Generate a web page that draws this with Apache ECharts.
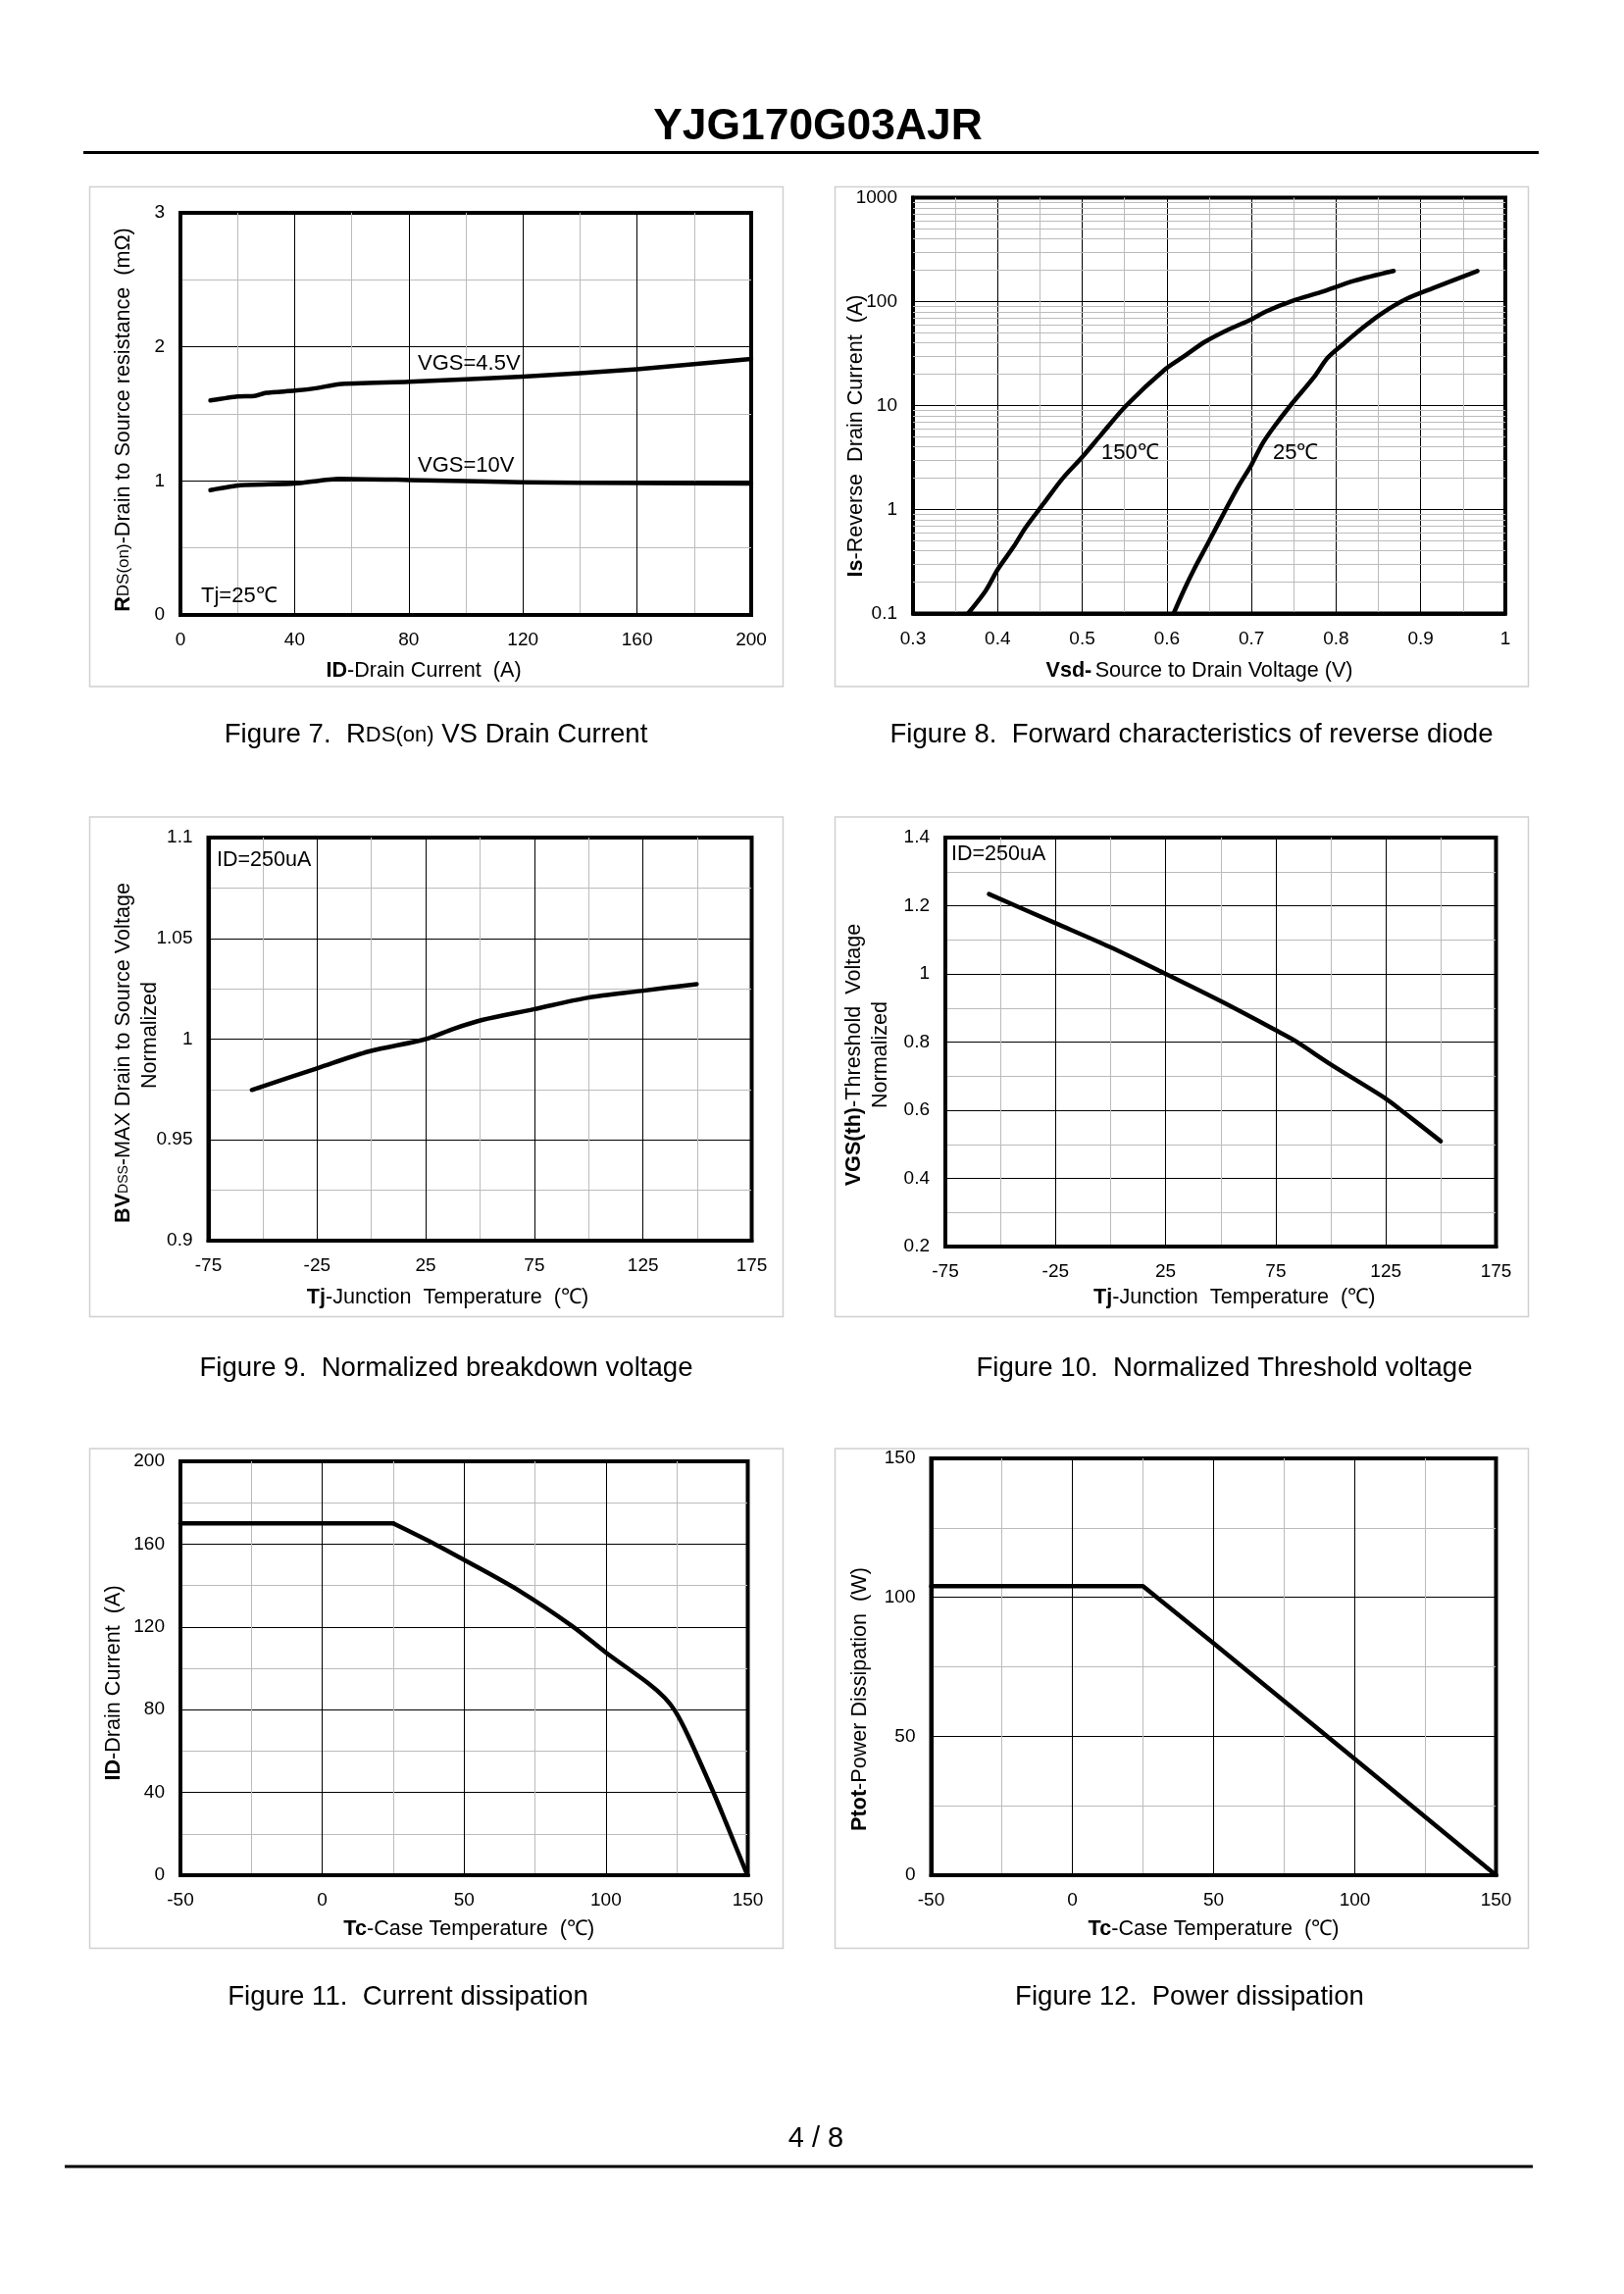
<!DOCTYPE html>
<html>
<head>
<meta charset="utf-8">
<title>YJG170G03AJR</title>
<script src="https://cdn.jsdelivr.net/npm/echarts@6/dist/echarts.min.js"></script>
<style>
html, body { margin: 0; padding: 0; background: #fff; }
#page { width: 1656px; height: 2339px; }
</style>
</head>
<body>
<div id="page"></div>
<script>
// values
var fig7Current45 = [10.5, 20, 26, 30, 40, 48, 55.5, 80, 120, 160, 200]
var fig7Rds45 = [1.6, 1.63, 1.634, 1.657, 1.673, 1.693, 1.722, 1.739, 1.778, 1.833, 1.91]
var fig7Current10 = [10.5, 21, 40, 55.5, 80, 120, 160, 200]
var fig7Rds10 = [0.931, 0.967, 0.98, 1.016, 1.007, 0.99, 0.984, 0.98]

var fig8Vsd150 = [0.365, 0.386, 0.4, 0.419, 0.433, 0.455, 0.477, 0.5, 0.522, 0.552, 0.597, 0.621, 0.645, 0.671, 0.699, 0.718, 0.749, 0.782, 0.821, 0.868]
var fig8Is150 = [0.1, 0.166, 0.264, 0.44, 0.67, 1.16, 2, 3.2, 5.2, 10, 22, 30, 41, 53, 67, 81, 102, 123, 158, 197]
var fig8Vsd25 = [0.608, 0.621, 0.633, 0.649, 0.669, 0.685, 0.7, 0.713, 0.727, 0.746, 0.774, 0.79, 0.81, 0.832, 0.854, 0.882, 0.915, 0.967]
var fig8Is25 = [0.1, 0.173, 0.275, 0.48, 0.98, 1.7, 2.7, 4.3, 6.3, 10, 18.8, 28.8, 40, 56.5, 77, 105, 135, 197]
var fig8MinorIs = [0.2, 0.3, 0.4, 0.5, 0.6, 0.7, 0.8, 0.9, 2, 3, 4, 5, 6, 7, 8, 9, 20, 30, 40, 50, 60, 70, 80, 90, 200, 300, 400, 500, 600, 700, 800, 900]

var fig9Temp = [-55, -24.7, -1, 25, 37.7, 50.9, 74.6, 99.4, 124.3, 149.7]
var fig9Bv = [0.9748, 0.9856, 0.9939, 1, 1.0051, 1.0095, 1.0148, 1.0205, 1.0239, 1.0273]

var fig10Temp = [-55.2, -25.4, -0.3, 25, 50.9, 74.9, 83.9, 99.8, 124.7, 133.9, 149.9]
var fig10Vth = [1.234, 1.15, 1.079, 1, 0.917, 0.835, 0.803, 0.735, 0.635, 0.59, 0.509]

var fig11FlatTemp = [-50, 25]
var fig11FlatId = [170, 170]
var fig11Temp = [25, 39.7, 49.7, 69.5, 88.5, 100, 114.9, 120.7, 124.4, 129, 138, 142.3, 149.3, 150]
var fig11Id = [170, 160, 152.6, 137.4, 120, 107.6, 92.8, 85.8, 79.3, 67.3, 39.7, 25.5, 2, 0]

var fig12Temp = [-50, 25, 50, 100, 150]
var fig12Ptot = [104, 104, 83.5, 41.8, 0]

var FONT = '"Liberation Sans", Arial, sans-serif'
var LABEL_SIZE = 19
var NAME_SIZE = 21.6
var CAPTION_SIZE = 27.6

var chart = echarts.init(document.getElementById('page'), null, { renderer: 'canvas' })

function zip (xs, ys) {
    return xs.map(function (x, i) { return [x, ys[i]] })
}

var nameRich = {
    n: { fontFamily: FONT, fontSize: NAME_SIZE, color: '#000', lineHeight: 27 },
    b: { fontFamily: FONT, fontSize: NAME_SIZE, fontWeight: 'bold', color: '#000', lineHeight: 27 },
    s: { fontFamily: FONT, fontSize: 17, color: '#000', lineHeight: 27 },
    sb: { fontFamily: FONT, fontSize: 14, color: '#000', lineHeight: 27 }
}

// off shifts the name along the axis, the padding pushes the centred text away
function axisName (gap, off) {
    return {
        nameLocation: 'middle',
        nameGap: gap,
        nameTextStyle: {
            rich: nameRich,
            padding: [0, off < 0 ? -2 * off : 0, 0, off > 0 ? 2 * off : 0]
        }
    }
}

function baseAxis (cfg, idx, isY) {
    var named = axisName(cfg.gap, cfg.off)
    var a = {
        type: cfg.type || 'value',
        gridIndex: idx,
        min: cfg.min,
        max: cfg.max,
        name: cfg.name,
        nameLocation: named.nameLocation,
        nameGap: named.nameGap,
        nameMoveOverlap: false,
        nameTextStyle: named.nameTextStyle,
        axisLine: { show: true, onZero: false, lineStyle: { color: '#000', width: 4 } },
        axisTick: { show: false },
        axisLabel: {
            color: '#000',
            fontFamily: FONT,
            fontSize: LABEL_SIZE,
            margin: cfg.margin,
            padding: isY ? [3, 0, 0, 0] : 0,
            showMinLabel: true,
            showMaxLabel: true,
            hideOverlap: false,
            formatter: cfg.formatter || function (v) { return String(v) }
        },
        splitLine: { show: true, lineStyle: { color: cfg.colors || '#000', width: 1 } }
    }
    if (cfg.interval) a.interval = cfg.interval
    if (cfg.minor) {
        a.minorTick = { show: false, splitNumber: cfg.minor }
        a.minorSplitLine = { show: true, lineStyle: { color: '#bbb', width: 1 } }
    }
    return a
}

function curve (i, data, smooth) {
    return {
        type: 'line',
        xAxisIndex: i,
        yAxisIndex: i,
        data: data,
        showSymbol: false,
        symbol: 'none',
        smooth: smooth,
        z: 5,
        lineStyle: { color: '#000', width: 4.5, cap: 'round', join: 'round' }
    }
}

// only every other tick carries a label on the -75..175 scale
function everyOther (v) {
    return (v + 75) % 50 === 0 ? String(v) : ''
}

var plots = [
    {
        rect: [184, 217, 582, 410],
        x: { min: 0, max: 200, interval: 40, minor: 2, margin: 16.5, gap: 44, off: -43, name: '{b|ID}{n|-Drain Current  (A)}' },
        y: { min: 0, max: 3, interval: 1, minor: 2, margin: 16, gap: 44, off: -6, name: '{b|R}{s|DS(on)}{n|-Drain to Source resistance  (mΩ)}' },
        curves: [zip(fig7Current45, fig7Rds45), zip(fig7Current10, fig7Rds10)],
        smooth: 0.2
    },
    {
        rect: [931, 201.5, 604, 424],
        x: { min: 0.3, max: 1, interval: 0.1, minor: 2, margin: 16.5, gap: 45.5, off: -10, name: '{b|Vsd-} {n|Source to Drain Voltage (V)}' },
        y: { type: 'log', min: 0.1, max: 1000, margin: 16, gap: 44, off: -31, name: '{b|Is}{n|-Reverse  Drain Current  (A)}' },
        curves: [zip(fig8Vsd150, fig8Is150), zip(fig8Vsd25, fig8Is25)],
        smooth: 0.3,
        minorY: fig8MinorIs
    },
    {
        rect: [212.5, 854, 554, 411],
        x: { min: -75, max: 175, interval: 25, colors: ['#000', '#bbb'], formatter: everyOther, margin: 16.5, gap: 45, off: -33, name: '{b|Tj}{n|-Junction  Temperature  (℃)}' },
        y: { min: 0.9, max: 1.1, interval: 0.05, minor: 2, margin: 16, gap: 45.5, off: -14, name: '{b|BV}{sb|DSS}{n|-MAX Drain to Source Voltage}\n{n|      Normalized}' },
        curves: [zip(fig9Temp, fig9Bv)],
        smooth: 0.3
    },
    {
        rect: [964, 854, 561.5, 417],
        x: { min: -75, max: 175, interval: 25, colors: ['#000', '#bbb'], formatter: everyOther, margin: 16.5, gap: 39, off: 14, name: '{b|Tj}{n|-Junction  Temperature  (℃)}' },
        y: { min: 0.2, max: 1.4, interval: 0.2, minor: 2, margin: 16, gap: 52, off: -13, name: '{b|VGS(th)}{n|-Threshold  Voltage}\n{n|Normalized}' },
        curves: [zip(fig10Temp, fig10Vth)],
        smooth: 0.3
    },
    {
        rect: [184, 1490, 578.5, 422],
        x: { min: -50, max: 150, interval: 50, minor: 2, margin: 16.5, gap: 42, off: 5, name: '{b|Tc}{n|-Case Temperature  (℃)}' },
        y: { min: 0, max: 200, interval: 40, minor: 2, margin: 16, gap: 54, off: -15, name: '{b|ID}{n|-Drain Current  (A)}' },
        curves: [zip(fig11FlatTemp, fig11FlatId), zip(fig11Temp, fig11Id)],
        smooth: 0.3
    },
    {
        rect: [949.5, 1487, 576, 425],
        x: { min: -50, max: 150, interval: 50, minor: 2, margin: 16.5, gap: 42, off: 0, name: '{b|Tc}{n|-Case Temperature  (℃)}' },
        y: { min: 0, max: 150, interval: 50, minor: 2, margin: 16, gap: 59, off: -33, name: '{b|Ptot}{n|-Power Dissipation  (W)}' },
        curves: [zip(fig12Temp, fig12Ptot)],
        smooth: false
    }
]

var grids = []
var xAxes = []
var yAxes = []
var seriesList = []

plots.forEach(function (p, i) {
    grids.push({
        left: p.rect[0],
        top: p.rect[1],
        width: p.rect[2],
        height: p.rect[3],
        show: true,
        backgroundColor: '#fff',
        borderColor: '#000',
        borderWidth: 4
    })
    xAxes.push(baseAxis(p.x, i, false))
    yAxes.push(baseAxis(p.y, i, true))
    p.curves.forEach(function (d) {
        seriesList.push(curve(i, d, p.smooth))
    })
    if (p.minorY) {
        seriesList.push({
            type: 'line',
            xAxisIndex: i,
            yAxisIndex: i,
            data: [],
            z: 1,
            markLine: {
                silent: true,
                symbol: 'none',
                animation: false,
                label: { show: false },
                lineStyle: { color: '#bbb', width: 1, type: 'solid' },
                data: p.minorY.map(function (v) { return { yAxis: v } })
            }
        })
    }
})

function text (x, y, str, size, opts) {
    opts = opts || {}
    return {
        type: 'text',
        z: 20,
        silent: true,
        style: {
            x: x,
            y: y,
            text: str,
            fill: '#000',
            fontFamily: FONT,
            fontSize: size,
            fontWeight: opts.bold ? 'bold' : 'normal',
            textAlign: opts.align || 'center',
            textVerticalAlign: 'middle',
            verticalAlign: 'middle',
            rich: opts.rich
        }
    }
}

function panel (x, y, w, h) {
    return {
        type: 'rect',
        z: -10,
        silent: true,
        shape: { x: x, y: y, width: w, height: h },
        style: { fill: '#fff', stroke: '#d0d0d0', lineWidth: 1.5 }
    }
}

function rule (x1, x2, y, w) {
    return {
        type: 'line',
        silent: true,
        shape: { x1: x1, y1: y, x2: x2, y2: y },
        style: { stroke: '#000', lineWidth: w }
    }
}

var captionRich = {
    n: { fontFamily: FONT, fontSize: CAPTION_SIZE, color: '#000' },
    s: { fontFamily: FONT, fontSize: 22, color: '#000' }
}

var graphics = [
    panel(91.5, 190.5, 707, 509.5),
    panel(851.5, 190.5, 707, 509.5),
    panel(91.5, 833, 707, 509.5),
    panel(851.5, 833, 707, 509.5),
    panel(91.5, 1477, 707, 509.5),
    panel(851.5, 1477, 707, 509.5),
    text(834, 130, 'YJG170G03AJR', 44.4, { bold: true }),
    rule(85, 1569, 155.5, 3),
    text(444.5, 749.5, '{n|Figure 7.  R}{s|DS(on)}{n| VS Drain Current}', CAPTION_SIZE, { rich: captionRich }),
    text(1215, 749.5, 'Figure 8.  Forward characteristics of reverse diode', CAPTION_SIZE),
    text(455, 1395.5, 'Figure 9.  Normalized breakdown voltage', CAPTION_SIZE),
    text(1248.5, 1395.5, 'Figure 10.  Normalized Threshold voltage', CAPTION_SIZE),
    text(416, 2036, 'Figure 11.  Current dissipation', CAPTION_SIZE),
    text(1213, 2036, 'Figure 12.  Power dissipation', CAPTION_SIZE),
    text(832, 2180.5, '4 / 8', 29),
    rule(66, 1563, 2209, 3),
    text(426, 371, 'VGS=4.5V', 22, { align: 'left' }),
    text(426, 475, 'VGS=10V', 22, { align: 'left' }),
    text(205, 608, 'Tj=25℃', 22, { align: 'left' }),
    text(1123, 462, '150℃', 22, { align: 'left' }),
    text(1298, 462, '25℃', 22, { align: 'left' }),
    text(221, 877.5, 'ID=250uA', 21.5, { align: 'left' }),
    text(970, 871.5, 'ID=250uA', 21.5, { align: 'left' })
]

chart.setOption({
    backgroundColor: '#fff',
    animation: false,
    textStyle: { fontFamily: FONT },
    grid: grids,
    xAxis: xAxes,
    yAxis: yAxes,
    series: seriesList,
    graphic: { elements: graphics }
})
</script>
</body>
</html>
